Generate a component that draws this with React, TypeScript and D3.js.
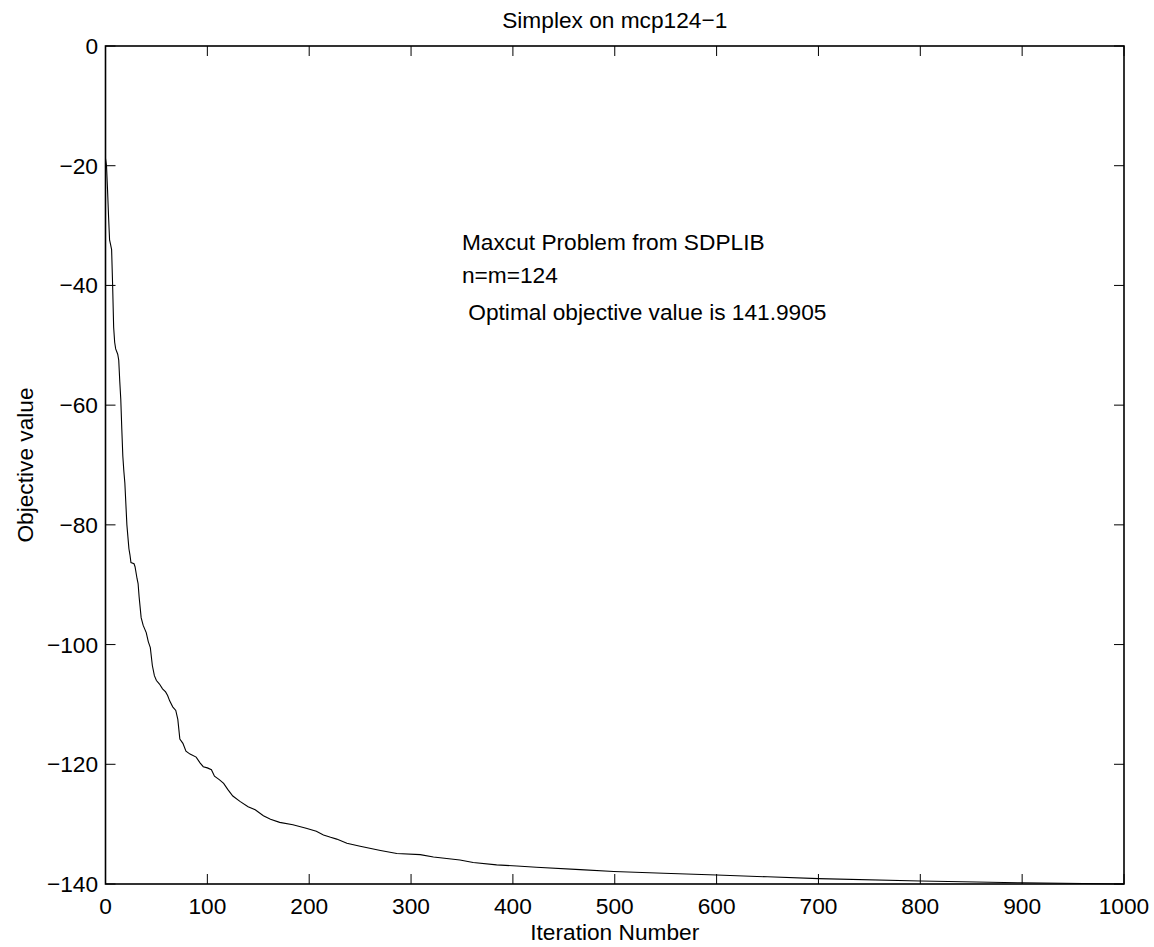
import React from "react";
import { scaleLinear, line } from "d3";

// iteration number / objective value
const iterations = [
  0, 1, 2, 3, 4, 5, 6, 7, 8, 9, 10, 12, 13, 14, 15, 16, 17, 18, 19, 20, 21, 22,
  23, 24, 25, 28, 29, 31, 32, 33, 35, 37, 40, 42, 44, 46, 48, 50, 53, 56, 59, 61,
  63, 66, 69, 71, 73, 76, 79, 83, 89, 93, 96, 100, 104, 107, 112, 116, 120, 125,
  132, 140, 147, 155, 162, 171, 184, 197, 207, 214, 221, 227, 237, 250, 270, 286,
  309, 322, 348, 361, 384, 404, 423, 466, 499, 548, 600, 650, 700, 800, 900, 1000
];
const objective = [
  -18.8, -20, -24, -28.5, -32.4, -33.2, -34, -40, -47, -49.5, -50.6, -51.5,
  -52.5, -56, -59, -64, -68.5, -71, -73, -76.5, -80, -82, -84, -85, -86.3, -86.5,
  -87, -89, -89.8, -92, -95.5, -96.8, -98, -99.5, -100.5, -103.5, -105.2, -106,
  -106.6, -107.4, -107.9, -108.5, -109.4, -110.4, -111, -112.5, -115.8, -116.5,
  -117.8, -118.3, -118.8, -119.8, -120.4, -120.6, -120.9, -122, -122.6, -123.2,
  -124.2, -125.3, -126.2, -127.1, -127.6, -128.6, -129.2, -129.7, -130.1,
  -130.7, -131.2, -131.8, -132.2, -132.5, -133.2, -133.7, -134.4, -134.9,
  -135.1, -135.5, -136.0, -136.4, -136.8, -137.0, -137.2, -137.6, -137.9,
  -138.2, -138.5, -138.8, -139.1, -139.5, -139.8, -140
];

const xTicks = [0, 100, 200, 300, 400, 500, 600, 700, 800, 900, 1000];
const yTicks = [0, -20, -40, -60, -80, -100, -120, -140];

const title = "Simplex on mcp124\u22121";
const xLabel = "Iteration Number";
const yLabel = "Objective value";
const noteLines = ["Maxcut Problem from SDPLIB", "n=m=124"];
const noteOptimal = " Optimal objective value is 141.9905";

const fmt = (v: number) => (v < 0 ? "\u2212" + Math.abs(v) : String(v));

export default function App() {
  const width = 1154,
    height = 947,
    left = 105.5,
    right = 1124,
    top = 46,
    bottom = 884,
    tickLen = 10;
  const font = "'Liberation Sans', Arial, Helvetica, sans-serif";
  const fs = 22.7;

  const x = scaleLinear().domain([0, 1000]).range([left, right]);
  const y = scaleLinear().domain([-140, 0]).range([bottom, top]);

  const pts: [number, number][] = iterations.map((it, i) => [it, objective[i]]);
  const path = line<[number, number]>()
    .x(d => x(d[0]))
    .y(d => y(d[1]))(pts);

  return (
    <svg
      width={width}
      height={height}
      style={{ position: "absolute", left: 0, top: 0, background: "#fff" }}
      fontFamily={font}
    >
      <rect x={0} y={0} width={width} height={height} fill="#fff" />

      <path d={path || ""} fill="none" stroke="#000" strokeWidth={1.1} />

      {/* ticks on all four sides, pointing inward */}
      {xTicks.map(t => (
        <g key={"x" + t}>
          <line x1={x(t)} x2={x(t)} y1={bottom} y2={bottom - tickLen} stroke="#000" strokeWidth={1} />
          <line x1={x(t)} x2={x(t)} y1={top} y2={top + tickLen} stroke="#000" strokeWidth={1} />
          <text x={x(t)} y={914} textAnchor="middle" fontSize={fs} fill="#000">
            {fmt(t)}
          </text>
        </g>
      ))}
      {yTicks.map(t => (
        <g key={"y" + t}>
          <line x1={left} x2={left + tickLen} y1={y(t)} y2={y(t)} stroke="#000" strokeWidth={1} />
          <line x1={right} x2={right - tickLen} y1={y(t)} y2={y(t)} stroke="#000" strokeWidth={1} />
          <text x={98} y={y(t) + 8} textAnchor="end" fontSize={fs} fill="#000">
            {fmt(t)}
          </text>
        </g>
      ))}

      <rect
        x={left}
        y={top}
        width={right - left}
        height={bottom - top}
        fill="none"
        stroke="#000"
        strokeWidth={1.6}
      />

      <text x={(left + right) / 2} y={28} textAnchor="middle" fontSize={fs} fill="#000">
        {title}
      </text>
      <text x={(left + right) / 2} y={940} textAnchor="middle" fontSize={fs} fill="#000">
        {xLabel}
      </text>
      <text
        transform={`translate(33, ${(top + bottom) / 2}) rotate(-90)`}
        textAnchor="middle"
        fontSize={fs}
        fill="#000"
      >
        {yLabel}
      </text>

      {noteLines.map((s, i) => (
        <text key={s} x={x(350)} y={250 + i * 33} fontSize={fs} fill="#000">
          {s}
        </text>
      ))}
      <text x={x(350)} y={320} fontSize={fs} fill="#000" style={{ whiteSpace: "pre" }}>
        {noteOptimal}
      </text>
    </svg>
  );
}
